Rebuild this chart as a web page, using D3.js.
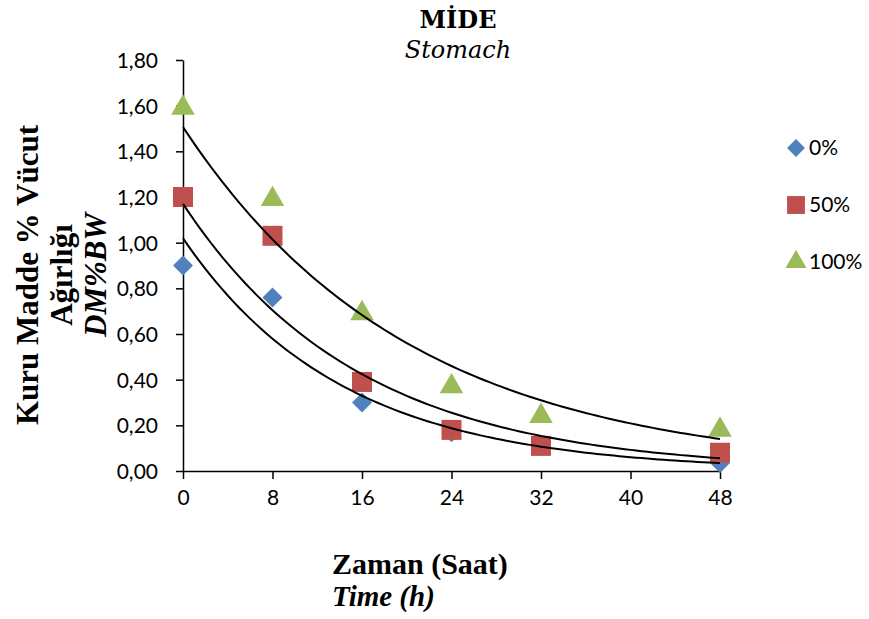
<!DOCTYPE html>
<html>
<head>
<meta charset="utf-8">
<script src="https://cdn.jsdelivr.net/npm/d3@7"></script>
<style>
  body { margin: 0; background: #fff; }
  svg { display: block; }
</style>
</head>
<body>
<div class="chart"></div>
<script>
const hours = [0, 8, 16, 24, 32, 48];
const xTicks = [0, 8, 16, 24, 32, 40, 48];
const yTicks = [0, 0.2, 0.4, 0.6, 0.8, 1.0, 1.2, 1.4, 1.6, 1.8];
const seriesNames = ["0%", "50%", "100%"];
const values0 = [0.90, 0.76, 0.30, 0.17, 0.11, 0.035];
const values50 = [1.20, 1.03, 0.39, 0.18, 0.11, 0.08];
const values100 = [1.59, 1.19, 0.69, 0.37, 0.24, 0.18];

const colors = ["#4F81BD", "#C0504D", "#9BBB59"];
const shapes = [d3.symbolSquare, d3.symbolSquare, d3.symbolTriangle];
const symSize = [200, 400, 240];
const symRot = [45, 0, 0];

const series = [values0, values50, values100].map((vals, i) => ({
    name: seriesNames[i],
    points: hours.map((h, j) => ({ x: h, y: vals[j] }))
}));

// exponential trendline, least squares on ln(y)
function expFit(points){
    const mx = d3.mean(points, p => p.x);
    const my = d3.mean(points, p => Math.log(p.y));
    let sxy = 0, sxx = 0;
    points.forEach(p => {
        sxy += (p.x - mx) * (Math.log(p.y) - my);
        sxx += (p.x - mx) * (p.x - mx);
    });
    const b = sxy / sxx;
    const a = Math.exp(my - b * mx);
    return x => a * Math.exp(b * x);
}

const W = 869, H = 619;
const svg = d3.select(".chart").append("svg")
    .attr("width", W).attr("height", H);

const x = d3.scaleLinear().domain([0, 48]).range([183, 720]);
const y = d3.scaleLinear().domain([0, 1.8]).range([471, 60]);

const fmt = d => d3.format(".2f")(d).replace(".", ",");
const sans = "Lato, 'Open Sans', sans-serif";

const xAxis = svg.append("g")
    .attr("transform", "translate(0,471)")
    .call(d3.axisBottom(x).tickValues(xTicks).tickSize(8).tickPadding(11).tickSizeOuter(0));
const yAxis = svg.append("g")
    .attr("transform", "translate(183,0)")
    .call(d3.axisLeft(y).tickValues(yTicks).tickFormat(fmt).tickSize(7).tickPadding(18).tickSizeOuter(0));

[xAxis, yAxis].forEach(g => {
    g.select(".domain").attr("stroke", "#000").attr("stroke-width", 1.5);
    g.selectAll(".tick line").attr("stroke", "#000").attr("stroke-width", 1.5);
    g.selectAll("text")
        .attr("fill", "#000")
        .style("font-family", sans)
        .style("font-size", "21px");
});
yAxis.selectAll("text").attr("dy", "0.35em");

// markers
series.forEach((s, i) => {
    svg.append("g")
        .selectAll("path")
        .data(s.points)
        .enter()
        .append("path")
        .attr("transform", d => `translate(${x(d.x)},${y(d.y)}) rotate(${symRot[i]})`)
        .attr("d", d3.symbol().type(shapes[i]).size(symSize[i]))
        .attr("fill", colors[i]);
});

// trendlines
const line = d3.line().x(d => x(d[0])).y(d => y(d[1]));
series.forEach(s => {
    const f = expFit(s.points);
    const pts = d3.range(0, 48.01, 0.5).map(t => [t, f(t)]);
    svg.append("path")
        .attr("d", line(pts))
        .attr("fill", "none")
        .attr("stroke", "#000")
        .attr("stroke-width", 2);
});

// legend
const legend = svg.append("g").attr("transform", "translate(796,148)");
seriesNames.forEach((name, i) => {
    const g = legend.append("g").attr("transform", `translate(0,${i * 57})`);
    g.append("path")
        .attr("transform", `rotate(${symRot[i]})`)
        .attr("d", d3.symbol().type(shapes[i]).size(symSize[i] * 0.8))
        .attr("fill", colors[i]);
    g.append("text")
        .attr("x", 13)
        .attr("dy", "0.35em")
        .style("font-family", sans)
        .style("font-size", "21px")
        .text(name);
});

// title
const serif = "'Liberation Serif', 'Times New Roman', serif";
const titleSerif = "'DejaVu Serif', serif";
svg.append("text")
    .attr("x", 458).attr("y", 28)
    .attr("text-anchor", "middle")
    .style("font-family", titleSerif).style("font-weight", "bold").style("font-size", "24px")
    .text("MİDE");
svg.append("text")
    .attr("x", 458).attr("y", 58)
    .attr("text-anchor", "middle")
    .style("font-family", titleSerif).style("font-style", "italic").style("font-size", "24px")
    .text("Stomach");

// x axis title
svg.append("text")
    .attr("x", 332).attr("y", 574)
    .style("font-family", serif).style("font-weight", "bold").style("font-size", "30px")
    .text("Zaman (Saat)");
svg.append("text")
    .attr("x", 332).attr("y", 606)
    .style("font-family", serif).style("font-weight", "bold").style("font-style", "italic").style("font-size", "29px")
    .text("Time (h)");

// y axis title
const yLabel = [["Kuru Madde % Vücut", 38, "normal"], ["Ağırlığı", 72, "normal"], ["DM%BW", 106, "italic"]];
yLabel.forEach(([t, bx, st]) => {
    svg.append("text")
        .attr("transform", `translate(${bx},275) rotate(-90)`)
        .attr("text-anchor", "middle")
        .style("font-family", serif).style("font-weight", "bold")
        .style("font-style", st).style("font-size", "31px")
        .text(t);
});
</script>
</body>
</html>
